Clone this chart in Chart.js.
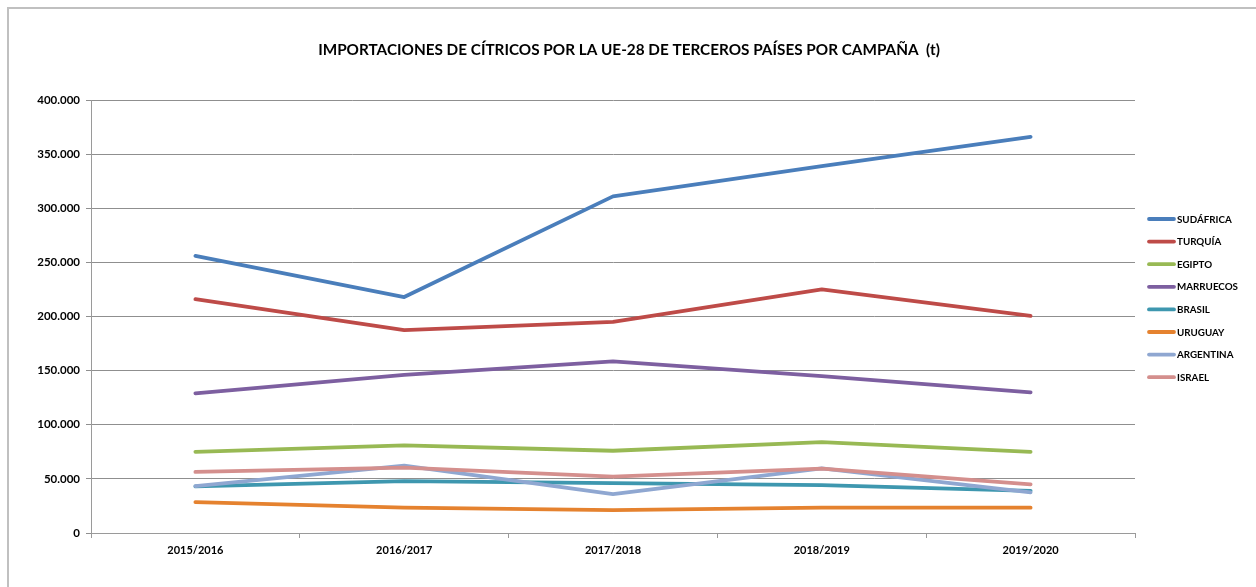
<!DOCTYPE html>
<html>
<head>
<meta charset="utf-8">
<script src="https://cdn.jsdelivr.net/npm/chart.js@4.4.1/dist/chart.umd.min.js"></script>
<style>
html,body{margin:0;padding:0;background:#fff;}
#wrap{width:1256px;height:587px;position:relative;}
</style>
</head>
<body>
<div id="wrap"><canvas id="c" width="1256" height="587"></canvas></div>
<script>
const categories = ['2015/2016', '2016/2017', '2017/2018', '2018/2019', '2019/2020'];
const yTicks = [0, 50000, 100000, 150000, 200000, 250000, 300000, 350000, 400000];
const title = 'IMPORTACIONES DE CÍTRICOS POR LA UE-28 DE TERCEROS PAÍSES POR CAMPAÑA  (t)';

const seriesNames = ['SUDÁFRICA', 'TURQUÍA', 'EGIPTO', 'MARRUECOS', 'BRASIL', 'URUGUAY', 'ARGENTINA', 'ISRAEL'];
const sudafrica = [256000, 218000, 311000, 339000, 366000];
const turquia   = [216000, 187500, 195000, 225000, 200500];
const egipto    = [75000, 81000, 76000, 84000, 75000];
const marruecos = [129000, 146000, 158500, 145000, 130000];
const brasil    = [43000, 48000, 46000, 44300, 39000];
const uruguay   = [28600, 23400, 21200, 23400, 23400];
const argentina = [43400, 62200, 36000, 59800, 37600];
const israel    = [56400, 60400, 52000, 59400, 45000];

const seriesValues = [sudafrica, turquia, egipto, marruecos, brasil, uruguay, argentina, israel];
const colors = ['#4A7EBB', '#BE4B48', '#98B954', '#7D5FA0', '#3E97AF', '#E5822F', '#8FA7D1', '#D48F8D'];

const FONT = 'Lato, "Open Sans", "Liberation Sans", sans-serif';
const PLOT_L = 91, PLOT_R = 1135, PLOT_T = 100, PLOT_B = 533;

function fmt(v){ return String(v).replace(/\B(?=(\d{3})+(?!\d))/g, '.'); }

const decor = {
  id: 'decor',
  beforeDraw(chart){
    const ctx = chart.ctx;
    ctx.save();
    ctx.fillStyle = '#fff';
    ctx.fillRect(0,0,chart.width,chart.height);
    ctx.strokeStyle = '#c0c0c0';
    ctx.lineWidth = 2;
    ctx.beginPath();
    ctx.moveTo(8, chart.height);
    ctx.lineTo(8, 8);
    ctx.lineTo(chart.width, 8);
    ctx.stroke();
    ctx.restore();
  },
  afterDraw(chart){
    const ctx = chart.ctx;
    ctx.save();
    ctx.fillStyle = '#000';
    ctx.font = 'bold 15.3px ' + FONT;
    ctx.textAlign = 'center';
    ctx.textBaseline = 'middle';
    ctx.fillText(title, 629, 50);
    // legend
    ctx.font = 'bold 9.8px ' + FONT;
    ctx.textAlign = 'left';
    for (let i = 0; i < seriesNames.length; i++) {
      const y = 219 + i * 22.6;
      ctx.strokeStyle = colors[i];
      ctx.lineWidth = 3.8;
      ctx.lineCap = 'round';
      ctx.beginPath();
      ctx.moveTo(1149, y);
      ctx.lineTo(1174, y);
      ctx.stroke();
      ctx.fillStyle = '#000';
      ctx.fillText(seriesNames[i], 1177, y + 0.5);
    }
    ctx.restore();
  }
};

new Chart(document.getElementById('c'), {
  type: 'line',
  data: {
    labels: categories,
    datasets: seriesNames.map((n, i) => ({
      label: n,
      data: seriesValues[i],
      borderColor: colors[i],
      backgroundColor: colors[i],
      borderWidth: 3.8,
      borderCapStyle: 'round',
      borderJoinStyle: 'round',
      pointRadius: 0,
      tension: 0,
      fill: false,
      order: seriesNames.length - i
    }))
  },
  options: {
    responsive: false,
    animation: false,
    devicePixelRatio: 1,
    layout: { padding: { left: 0, top: PLOT_T, right: 1256 - PLOT_R, bottom: 587 - PLOT_B - 30 } },
    plugins: {
      legend: { display: false },
      title: { display: false },
      tooltip: { enabled: false }
    },
    scales: {
      x: {
        type: 'category',
        offset: true,
        afterFit(s){ s.height = 30; },
        grid: { display: true, drawOnChartArea: false, drawTicks: true, tickLength: 5, color: '#9a9a9a', offset: true },
        border: { display: true, color: '#9a9a9a', width: 1 },
        ticks: { color: '#000', font: { family: FONT, weight: 'bold', size: 11 }, padding: 6, maxRotation: 0 }
      },
      y: {
        min: 0, max: 400000,
        afterFit(s){ s.width = PLOT_L; },
        afterBuildTicks(s){ s.ticks = yTicks.map(v => ({ value: v })); },
        grid: { color: '#8f8f8f', lineWidth: 1, tickLength: 5, drawTicks: true },
        border: { display: true, color: '#9a9a9a', width: 1 },
        ticks: { color: '#000', font: { family: FONT, weight: 'bold', size: 11.5 }, padding: 6, callback: v => fmt(v) }
      }
    }
  },
  plugins: [decor]
});
</script>
</body>
</html>
